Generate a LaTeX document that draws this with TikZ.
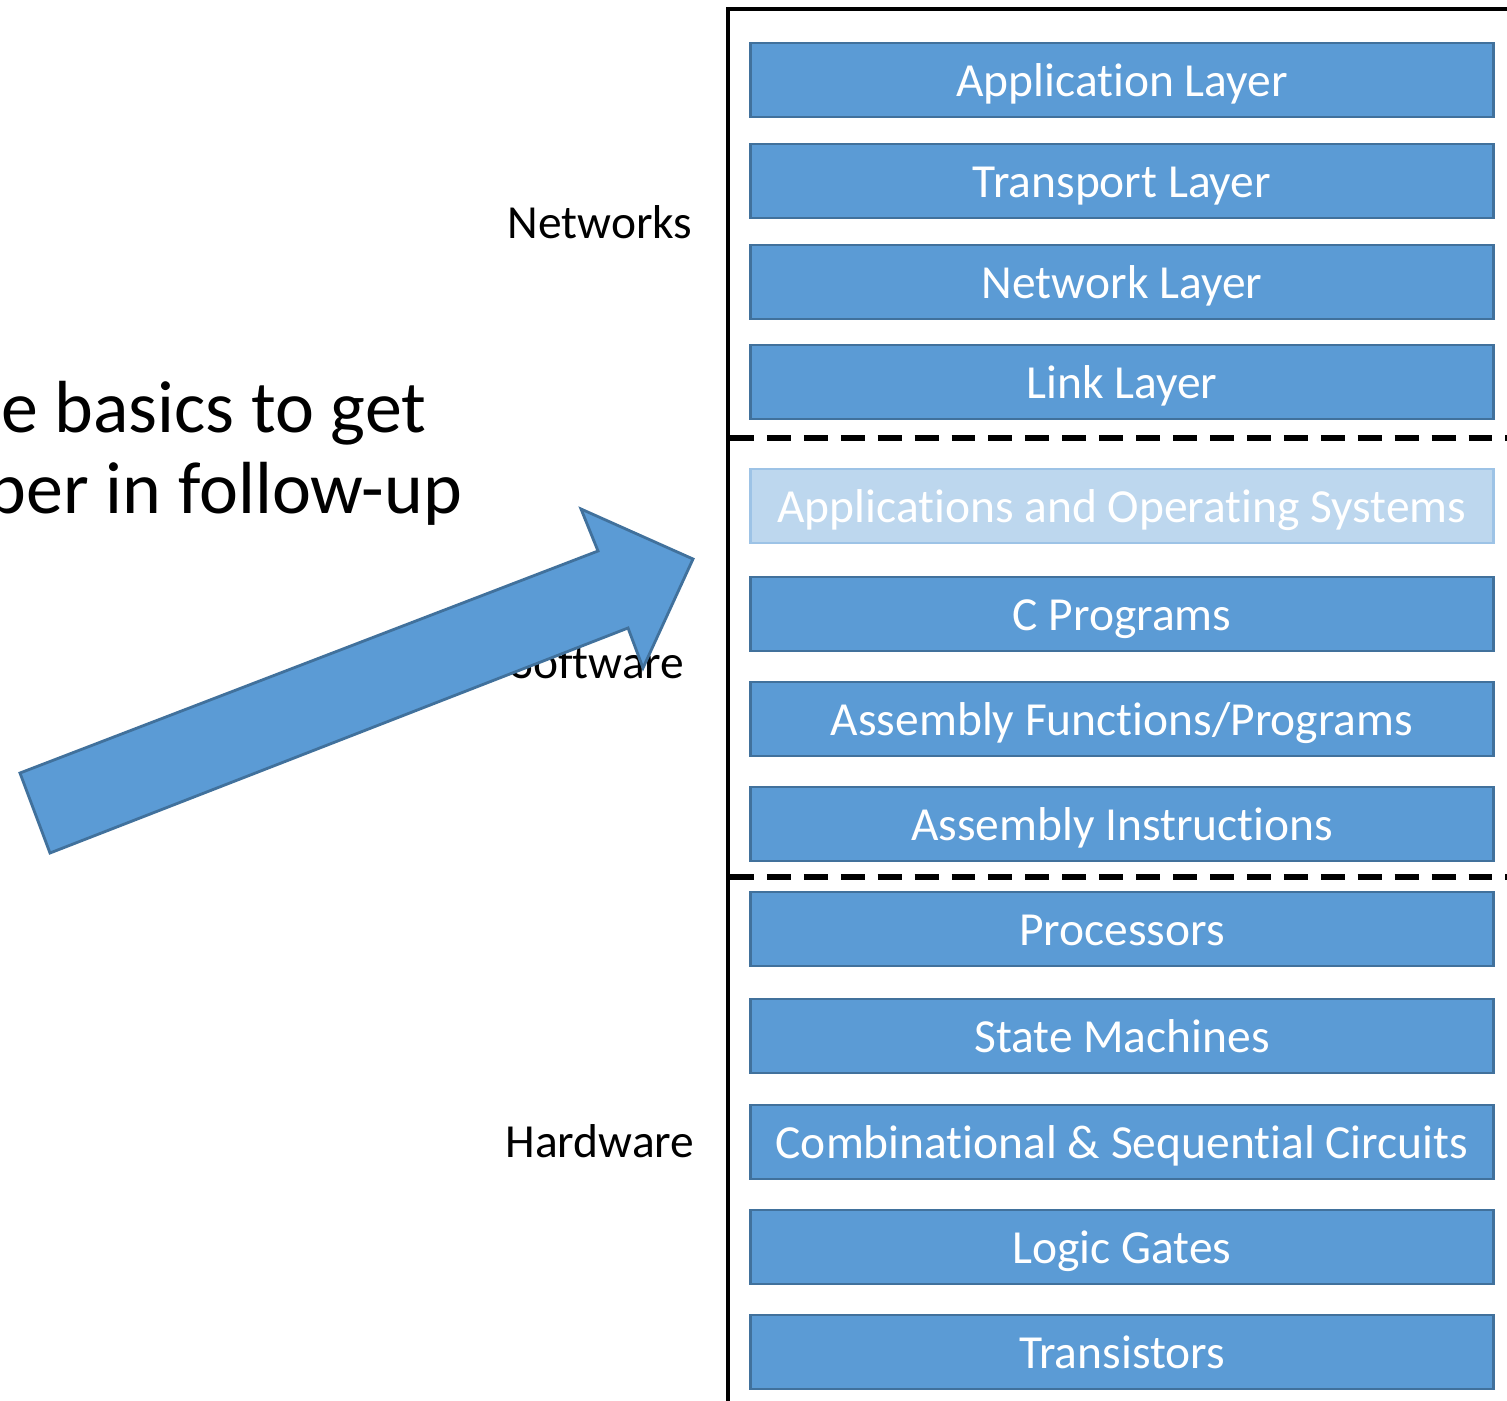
\documentclass[tikz,border=0pt]{standalone}
\usepackage{fontspec}
\setmainfont[Ligatures=NoCommon]{Carlito}
\usetikzlibrary{positioning}

\definecolor{layerblue}{HTML}{5B9BD5}
\definecolor{layeredge}{HTML}{41719C}
\definecolor{paleblue}{HTML}{BDD7EE}
\definecolor{paleedge}{HTML}{9DC3E6}

\tikzset{
  layerbox/.style={draw=layeredge, fill=layerblue, line width=0.8pt,
    minimum width=7.42cm, minimum height=0.74cm, inner sep=0pt,
    text height=9.6pt, text depth=0.4pt,
    text=white, font=\fontsize{13.5}{16}\selectfont},
  fadedbox/.style={layerbox, draw=paleedge, fill=paleblue},
  sidelabel/.style={font=\fontsize{13.5}{16}\selectfont, anchor=base, inner sep=0pt},
  bigtext/.style={font=\fontsize{21}{23}\selectfont, anchor=base east, inner sep=0pt},
  sepline/.style={dash pattern=on 6.8pt off 3.7pt, line width=1.6pt}
}

\begin{document}
\begin{tikzpicture}[x=0.01cm, y=-0.01cm]
  \useasboundingbox (0,0) rectangle (1507,1400);
  \clip (0,0) rectangle (1507,1400);

  % left-hand slide text, cut off by the page edge
  \node[bigtext] (basics) at (427,432) {e basics to get};
  \node[bigtext] (followup) at (463,513) {per in follow-up};

  % frame round the stack
  \draw[line width=1.4pt] (728,1410) -- (728,9) -- (1510,9);
  \draw[sepline] (730,438) -- (1510,438);
  \draw[sepline] (730,877) -- (1510,877);

  % networks
  \node[layerbox] (appl) at (1122,80) {Application Layer};
  \node[layerbox] (transp) at (1122,181) {Transport Layer};
  \node[layerbox] (netw) at (1122,282) {Network Layer};
  \node[layerbox] (link) at (1122,382) {Link Layer};

  % software
  \node[fadedbox] (apps) at (1122,506) {Applications and Operating Systems};
  \node[layerbox] (cprog) at (1122,614) {C Programs};
  \node[layerbox] (asmfun) at (1122,719) {Assembly Functions/Programs};
  \node[layerbox] (asmins) at (1122,824) {Assembly Instructions};

  % hardware
  \node[layerbox] (proc) at (1122,929) {Processors};
  \node[layerbox] (fsm) at (1122,1036) {State Machines};
  \node[layerbox] (circ) at (1122,1142) {Combinational \& Sequential Circuits};
  \node[layerbox] (gates) at (1122,1247) {Logic Gates};
  \node[layerbox] (trans) at (1122,1352) {Transistors};

  \node[sidelabel] (netlbl) at (600,238) {Networks};
  \node[sidelabel] (swlbl) at (598,678) {Software};
  \node[sidelabel] (hwlbl) at (600,1157) {Hardware};

  % big block arrow, drawn over the Software label
  \draw[fill=layerblue, draw=layeredge, line width=0.8pt]
       (20,773) -- (598,551) -- (581,509) -- (693,559)
       -- (643,668) -- (628,628) -- (50,853) -- cycle;
\end{tikzpicture}
\end{document}
